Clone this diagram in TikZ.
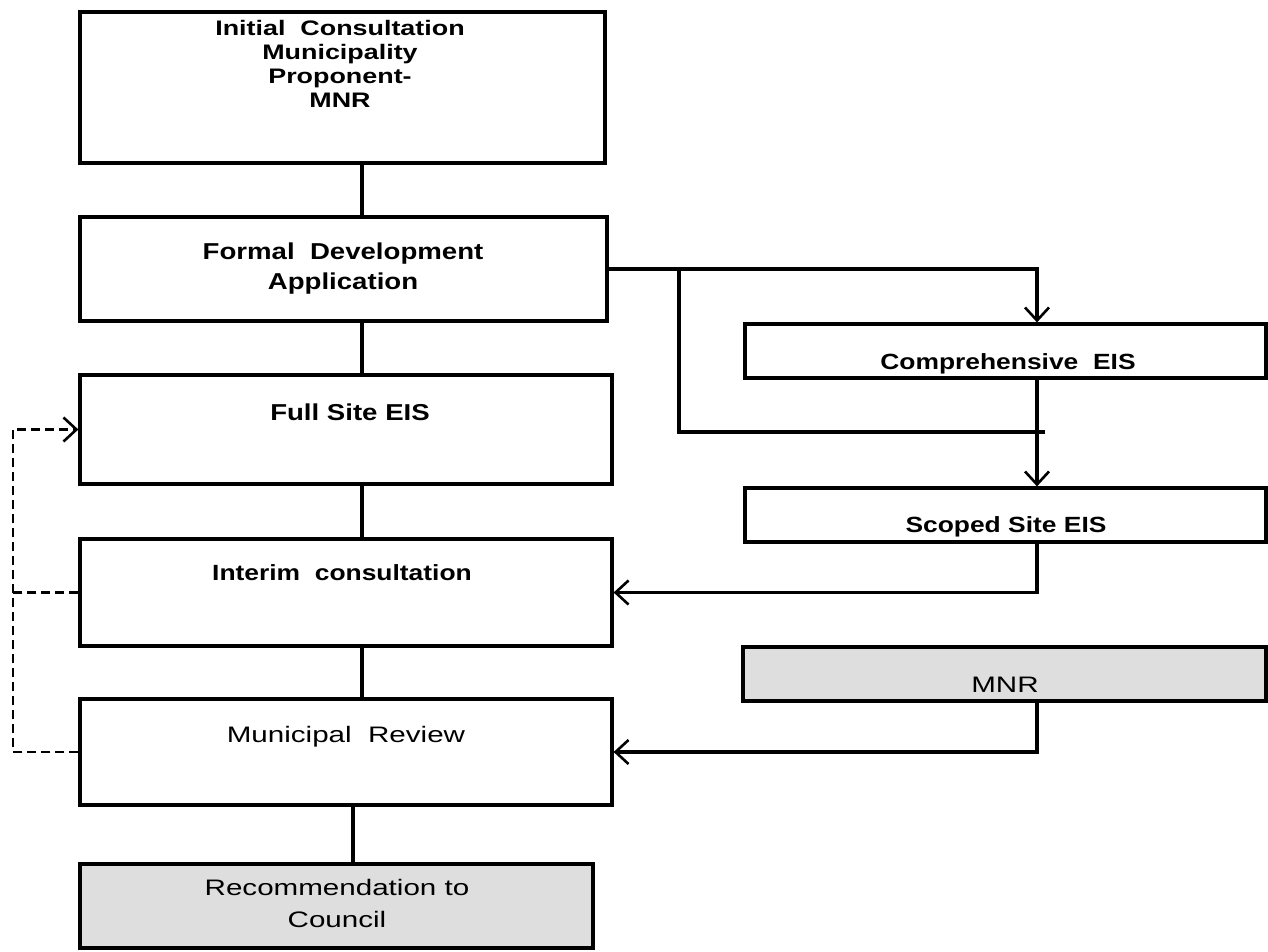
\documentclass[tikz,border=0pt]{standalone}
\usepackage{fontspec}
\setmainfont{Liberation Sans}
\newfontfamily\bwide[FakeStretch=1.2]{Liberation Sans}
\newfontfamily\bwider[FakeStretch=1.28]{Liberation Sans}
\newfontfamily\rwide[FakeStretch=1.32]{Liberation Sans}
\usetikzlibrary{fit,arrows.meta}
\tikzset{
  box/.style={draw, line width=1.6pt, inner sep=0pt},
  shade/.style={box, fill=black!13},
  btxt/.style={font=\bwide\bfseries\fontsize{11}{12}\selectfont, inner sep=0pt, align=center},
  rtxt/.style={font=\rwide\fontsize{11.2}{16}\selectfont, inner sep=0pt, align=center},
  conn/.style={line width=1.6pt},
  tip/.style={-{Straight Barb[length=6.5pt,width=12pt,line width=1.3pt]}},
  arr/.style={conn, tip},
  dline/.style={line width=1.3pt, dash pattern=on 4.5pt off 2.5pt},
}
\begin{document}
\begin{tikzpicture}[x=0.5pt,y=-0.5pt]
\useasboundingbox (0,0) rectangle (1268,952);
% left column boxes
\node[box, fit={(80,12) (605,163)}] (b1) {};
\node[box, fit={(80,217) (607,321)}] (b2) {};
\node[box, fit={(80,375) (612,484)}] (b3) {};
\node[box, fit={(80,539) (612,646)}] (b4) {};
\node[box, fit={(80,699) (612,805)}] (b5) {};
\node[shade, fit={(80,864) (593,948)}] (b6) {};
% right column boxes
\node[box, fit={(745,324) (1266,378)}] (ce) {};
\node[box, fit={(745,488) (1266,542)}] (se) {};
\node[shade, fit={(743,647) (1266,701)}] (mnr) {};
% texts
\node[btxt, anchor=north, font=\bwider\bfseries\fontsize{10.5}{12}\selectfont] (t1) at (340,20) {Initial\ \ Consultation\\Municipality\\Proponent-\\MNR};
\node[btxt, anchor=north, font=\bwide\bfseries\fontsize{11.5}{15}\selectfont] (t2) at (343,242) {Formal\ \ Development\\Application};
\node[btxt, anchor=base, font=\bwide\bfseries\fontsize{11.5}{12}\selectfont] (t3) at (350,420) {Full\ Site EIS};
\node[btxt, anchor=base] (t4) at (342,580) {Interim\ \ consultation};
\node[rtxt, anchor=base] (t5) at (346,742) {Municipal\ \ Review};
\node[rtxt, anchor=north] (t6) at (337,879) {Recommendation to\\Council};
\node[btxt, anchor=base] (t7) at (1008,369) {Comprehensive\ \ EIS};
\node[btxt, anchor=base] (t8) at (1006,532) {Scoped Site EIS};
\node[rtxt, anchor=base] (t9) at (1005,692) {MNR};
% helper coordinates
\coordinate (cx) at (362,0);
\coordinate (cx2) at (353,0);
\coordinate (rx) at (1037,0);
\coordinate (jx) at (679,432);
\coordinate (jend) at (1045,432);
\coordinate (dx) at (13,0);
% vertical chain
\draw[conn] (b1.south -| cx) -- (b2.north -| cx);
\draw[conn] (b2.south -| cx) -- (b3.north -| cx);
\draw[conn] (b3.south -| cx) -- (b4.north -| cx);
\draw[conn] (b4.south -| cx) -- (b5.north -| cx);
\draw[conn] (b5.south -| cx2) -- (b6.north -| cx2);
% right side
\draw[arr] (b2.east) -| (ce.north -| rx);
\draw[conn] (b2.east) -| (jx) -- (jend);
\draw[arr] (ce.south -| rx) -- (se.north -| rx);
\draw[arr] (se.south -| rx) |- (b4.east);
\draw[arr] (mnr.south -| rx) |- (b5.east);
% dashed feedback
\draw[dline] (b4.west) -- (b4.west -| dx);
\draw[dline, tip] (b5.west) -| (dx |- b3.west) -- (b3.west);
\end{tikzpicture}
\end{document}
